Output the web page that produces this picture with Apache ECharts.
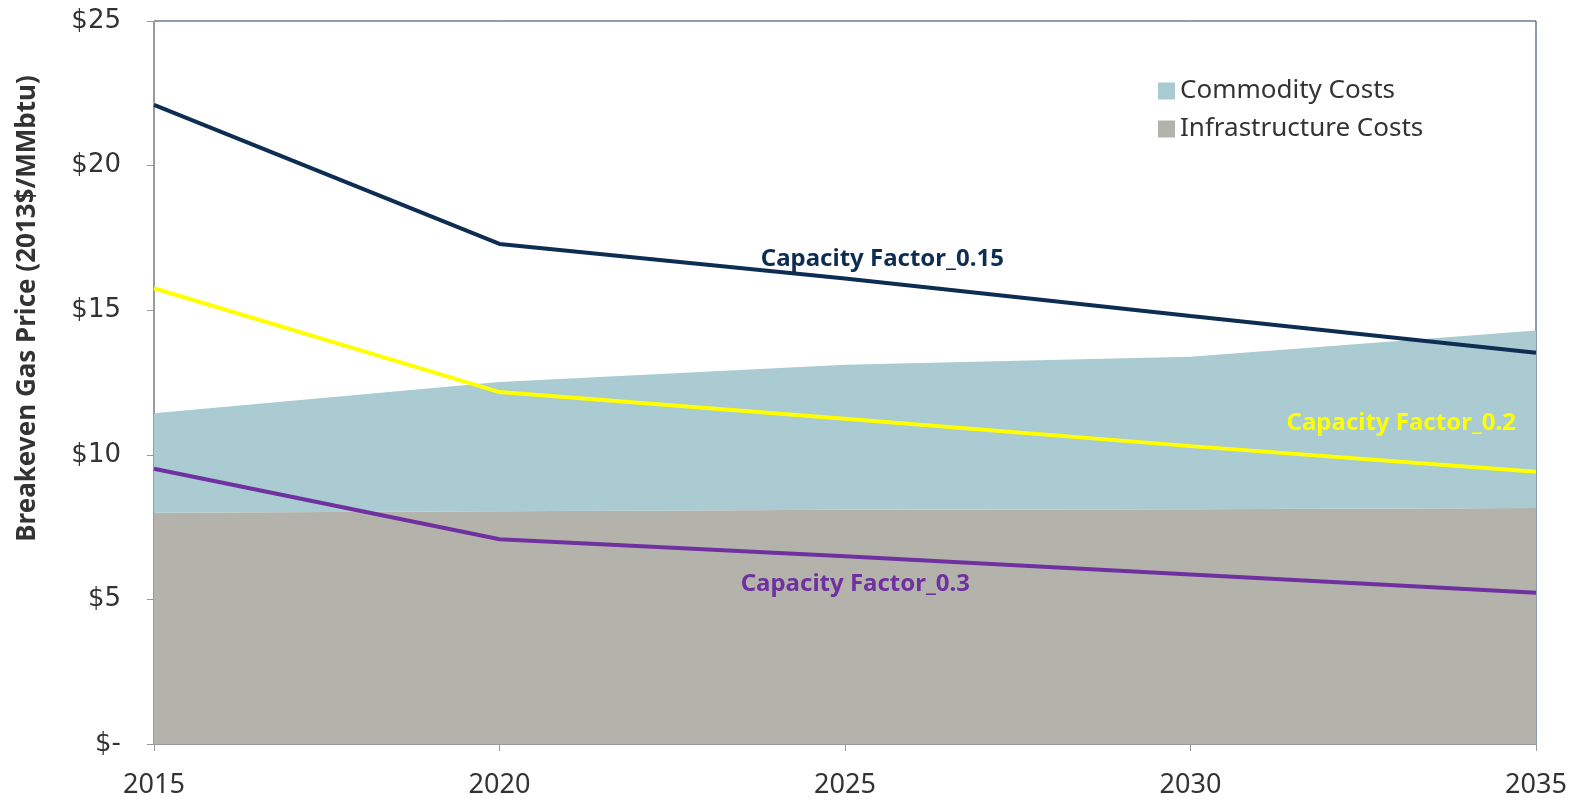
<!DOCTYPE html>
<html>
<head>
<meta charset="utf-8">
<script src="https://cdn.jsdelivr.net/npm/echarts@6/dist/echarts.min.js"></script>
<style>
  html, body { margin: 0; padding: 0; background: #fff; }
  #chart { width: 1581px; height: 799px; }
</style>
</head>
<body>
<div id="chart"></div>
<script>
// years on the x axis
const years = ['2015', '2020', '2025', '2030', '2035'];
// stacked cost areas
const infraCosts = [8.0, 8.05, 8.1, 8.12, 8.16];
const commodityCosts = [3.44, 4.47, 5.01, 5.27, 6.14];
// breakeven lines
const cf015 = [22.1, 17.29, 16.1, 14.8, 13.53];
const cf02 = [15.76, 12.17, 11.25, 10.3, 9.41];
const cf03 = [9.52, 7.08, 6.49, 5.86, 5.23];
// label anchors (fractional category index, value)
const lineLabels = [
  { text: 'Capacity Factor_0.15', at: [2.108, 16.77], color: '#0D2D52' },
  { text: 'Capacity Factor_0.2', at: [3.61, 11.09], color: '#FFFF00' },
  { text: 'Capacity Factor_0.3', at: [2.03, 5.51], color: '#7030A0' }
];

const font = "'Noto Sans', sans-serif";

const chart = echarts.init(document.getElementById('chart'));
const option = {
  animation: false,
  grid: {
    left: 154, right: 45, top: 21, bottom: 55, outerBoundsMode: 'none',
    show: true, borderColor: '#1F3B63', borderWidth: 1, backgroundColor: 'transparent'
  },
  legend: {
    left: 1153, top: 73, orient: 'vertical', itemGap: 12,
    itemWidth: 17, itemHeight: 17,
    textStyle: { fontFamily: font, fontSize: 26, color: '#333' },
    data: [
      { name: 'Commodity Costs', icon: 'rect' },
      { name: 'Infrastructure Costs', icon: 'rect' }
    ]
  },
  xAxis: {
    type: 'category', data: years, boundaryGap: false,
    axisLine: { show: true, lineStyle: { color: '#999', width: 1 } },
    axisTick: { show: true, length: 7, lineStyle: { color: '#999' } },
    splitLine: { show: false },
    axisLabel: { fontFamily: font, fontSize: 27, color: '#333', margin: 28 }
  },
  yAxis: {
    type: 'value', min: 0, max: 25, interval: 5,
    name: 'Breakeven Gas Price (2013$/MMbtu)',
    nameLocation: 'middle', nameGap: 113, nameRotate: 90,
    nameTextStyle: {
      fontFamily: font, fontWeight: 'bold', fontSize: 26, color: '#333',
      padding: [0, 0, 0, 148]
    },
    axisLine: { show: true, lineStyle: { color: '#999', width: 1 } },
    axisTick: { show: true, length: 7, lineStyle: { color: '#999' } },
    splitLine: { show: false },
    axisLabel: {
      fontFamily: "'DejaVu Sans', sans-serif", fontSize: 26, color: '#333', margin: 33,
      formatter: v => v === 0 ? '$-' : '$' + v
    }
  },
  series: [
    {
      name: 'Infrastructure Costs', type: 'line', stack: 'cost', data: infraCosts,
      symbol: 'none', lineStyle: { width: 0 }, itemStyle: { color: '#B3B3AB' },
      areaStyle: { color: '#B3B3AB', opacity: 1 }, z: 1
    },
    {
      name: 'Commodity Costs', type: 'line', stack: 'cost', data: commodityCosts,
      symbol: 'none', lineStyle: { width: 0 }, itemStyle: { color: '#A9CBD1' },
      areaStyle: { color: '#A9CBD1', opacity: 1 }, z: 1
    },
    {
      name: 'Capacity Factor_0.15', type: 'line', data: cf015, symbol: 'none',
      lineStyle: { color: '#0D2D52', width: 4 }, z: 3
    },
    {
      name: 'Capacity Factor_0.2', type: 'line', data: cf02, symbol: 'none',
      lineStyle: { color: '#FFFF00', width: 4 }, z: 3
    },
    {
      name: 'Capacity Factor_0.3', type: 'line', data: cf03, symbol: 'none',
      lineStyle: { color: '#7030A0', width: 4 }, z: 3
    }
  ]
};
chart.setOption(option);

// place the line names using the chart's own scales
function toPixel(at) {
  const i = Math.floor(at[0]);
  const f = at[0] - i;
  const p0 = chart.convertToPixel({ gridIndex: 0 }, [i, at[1]]);
  const p1 = chart.convertToPixel({ gridIndex: 0 }, [Math.min(i + 1, years.length - 1), at[1]]);
  return [p0[0] + (p1[0] - p0[0]) * f, p0[1]];
}
chart.setOption({
  graphic: lineLabels.map(l => {
    const p = toPixel(l.at);
    return {
      type: 'text', x: p[0], y: p[1], z: 10,
      style: {
        text: l.text, fill: l.color, font: "bold 24px 'Noto Sans', sans-serif",
        align: 'center', verticalAlign: 'middle'
      }
    };
  })
});
</script>
</body>
</html>
